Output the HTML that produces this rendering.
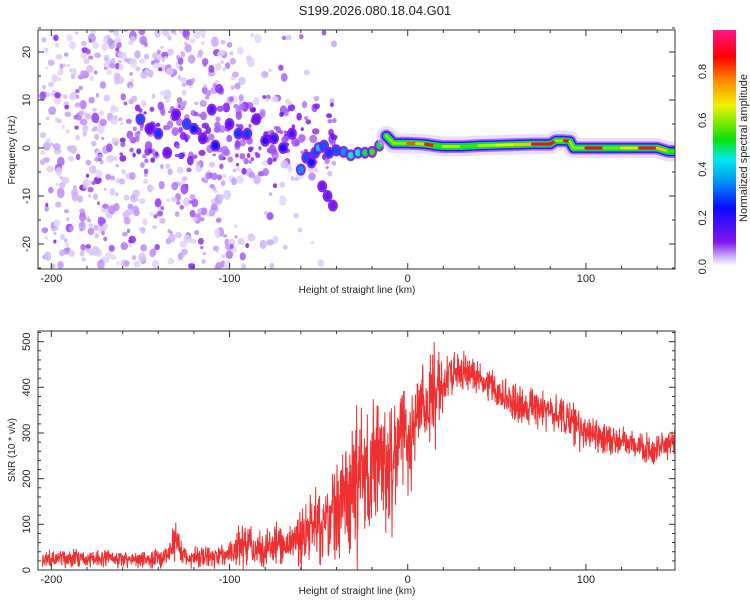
<!DOCTYPE html>
<html><head><meta charset="utf-8"><style>
body{margin:0;background:#fff;width:750px;height:600px;overflow:hidden}
svg text{font-family:"Liberation Sans",sans-serif;fill:#222}
</style></head><body>
<svg id="chart" width="750" height="600" xmlns="http://www.w3.org/2000/svg">
<defs>
<linearGradient id="cbar" x1="0" y1="1" x2="0" y2="0"></linearGradient>
<clipPath id="c1"><rect x="38" y="30" width="637" height="239"/></clipPath>
<clipPath id="c2"><rect x="38" y="331" width="637" height="239"/></clipPath>
</defs>
<text x="375" y="15" font-size="13" text-anchor="middle">S199.2026.080.18.04.G01</text>
<g id="topg" clip-path="url(#c1)"></g>
<g id="botg" clip-path="url(#c2)"></g>
<rect x="713" y="30" width="23" height="236" fill="url(#cbar)"/>
<g id="axesg"></g>
<text transform="translate(747,148) rotate(-90)" font-size="11" text-anchor="middle">Normalized spectral amplitude</text>
</svg>
<script>
// ---- data ----
const xTicks=[-200,-100,0,100];
const fTicks=[-20,-10,0,10,20];
const snrTicks=[0,100,200,300,400,500];
const cbTicks=[0,0.2,0.4,0.6,0.8];
const ridgeX=[-12,-8,-4,0,5,10,15,20,30,40,50,60,70,80,83,88,91,93,100,110,120,130,140,146,150];
const ridgeF=[2.5,1.0,1.0,1.0,0.9,0.8,0.5,0.3,0.3,0.5,0.6,0.7,0.8,0.8,1.5,1.5,1.4,0.0,0.0,0.0,0.0,0.0,0.0,-0.7,-0.7];
const ridgeAmp=[0.6,0.6,0.6,0.8,0.7,0.85,0.55,0.62,0.55,0.62,0.66,0.7,0.9,0.9,0.6,0.88,0.6,0.6,0.88,0.58,0.68,0.9,0.7,0.55,0.5];
const clusterX=[-60,-57,-54,-52,-50,-47,-44,-40,-36,-32,-28,-24,-20,-16,-48,-45,-42,-150,-140,-124,-120,-108,-95,-90,-80,-75,-70,-145,-130,-115,-100,-85,-65,-135,-110];
const clusterF=[-4.5,-2,-3,-1,0,0.5,-1,-0.5,-0.8,-1.5,-1,-1,-0.8,0.5,-8,-10,-12,6,3,5,4,0.5,3,3,1.5,2,0,4,7,2,5,6,3,-1,8];
const clusterAmp=[0.35,0.3,0.25,0.3,0.4,0.3,0.28,0.3,0.35,0.45,0.45,0.5,0.55,0.5,0.12,0.12,0.1,0.3,0.28,0.3,0.26,0.25,0.28,0.28,0.2,0.18,0.22,0.14,0.14,0.13,0.14,0.13,0.15,0.12,0.13];
const noiseX=[-205,-180,-160,-140,-120,-100,-80,-65,-50,-40];
const noiseDensity=[1.0,1.0,0.9,0.9,0.85,0.6,0.4,0.25,0.15,0.05];
const snrX=[];for(let v=-205;v<=150;v+=5)snrX.push(v);
const snrLow=[5,5,5,5,5,5,5,5,5,5,5,5,5,5,10,20,10,5,5,5,5,5,10,10,10,5,5,5,5,5,5,10,5,10,20,0,40,60,100,30,200,150,250,280,240,330,380,390,390,380,360,340,330,320,320,310,300,300,300,290,250,260,260,250,250,240,240,240,230,230,240,250];
const snrHigh=[40,45,45,45,50,40,45,50,45,45,40,45,40,50,60,115,55,50,55,50,55,60,100,110,80,90,110,100,110,130,180,190,170,230,330,340,360,390,395,410,400,420,440,480,520,470,480,480,470,460,450,430,420,410,400,400,390,390,380,380,380,340,340,330,320,320,310,300,300,300,300,310];
// ---- scales ----
const X0=38,X1=675,XMIN=-207.5,XMAX=150;
const sx=v=>X0+(v-XMIN)/(XMAX-XMIN)*(X1-X0);
const fy=f=>148-f*4.8;
const sy=s=>570-s*0.4567;
const cy=a=>266.7-a*244;
const NS='http://www.w3.org/2000/svg';
function mk(tag,attrs,parent){const e=document.createElementNS(NS,tag);for(const k in attrs)e.setAttribute(k,attrs[k]);parent.appendChild(e);return e;}
const STOPS=[[0,[255,255,255]],[0.03,[215,195,250]],[0.1,[130,20,240]],[0.24,[10,10,255]],[0.34,[0,140,245]],[0.44,[0,235,235]],[0.52,[10,225,10]],[0.66,[240,240,0]],[0.76,[255,140,0]],[0.86,[255,0,0]],[0.97,[255,20,140]]];
function cmap(a){const st=STOPS;
 for(let i=1;i<st.length;i++){if(a<=st[i][0]){const t=(a-st[i-1][0])/(st[i][0]-st[i-1][0]);const c=st[i-1][1].map((v,j)=>Math.round(v+(st[i][1][j]-v)*t));return'rgb('+c.join(',')+')';}}return'rgb(255,20,140)';}
const grad=document.getElementById('cbar');
STOPS.forEach(s=>mk('stop',{offset:s[0]/0.97,'stop-color':'rgb('+s[1].join(',')+')'},grad));
const topG=document.getElementById('topg'),botG=document.getElementById('botg'),axesG=document.getElementById('axesg');
let seed=12345;const rnd=()=>{seed=(seed*16807)%2147483647;return seed/2147483647;};
// noise texture
for(let i=0;i<noiseX.length-1;i++){
 const n=Math.round(noiseDensity[i]*140);
 for(let k=0;k<n;k++){
  const x=noiseX[i]+rnd()*(noiseX[i+1]-noiseX[i]);
  let f=(rnd()*50-25);
  if(x>-100&&rnd()<0.6)f=f*0.35+2;
  const near=Math.abs(f-3)<6&&x>-160;
  const a=0.02+rnd()*rnd()*0.09+(near?0.04:0);
  const r=1.5+rnd()*2.5;
  const b=mk('ellipse',{cx:sx(x),cy:fy(f),rx:r,ry:r*(0.8+rnd()*0.6),fill:cmap(a),opacity:0.85},topG);
  
  
 }
}
// clusters
clusterX.forEach((x,i)=>{
 const a=clusterAmp[i];
 const h=mk('ellipse',{cx:sx(x),cy:fy(clusterF[i]),rx:5,ry:6,fill:cmap(0.11),opacity:0.9},topG);
 
 
 const c=mk('ellipse',{cx:sx(x),cy:fy(clusterF[i]),rx:3,ry:3.5,fill:cmap(a)},topG);
 
 
});
// ridge
const rpts=ridgeX.map((x,i)=>sx(x)+','+fy(ridgeF[i])).join(' ');
[[20,0.03,0.55],[13,0.07,0.9],[10,0.12,1],[8.5,0.24,1],[7,0.4,1],[5.5,0.52,1]].forEach(([w,a,o])=>{
 const l=mk('polyline',{points:rpts,fill:'none',stroke:cmap(a),'stroke-width':w,'stroke-linejoin':'round','stroke-linecap':'round',opacity:o},topG);
 
 
});
for(let i=0;i<ridgeX.length-1;i++){
 const l=mk('line',{x1:sx(ridgeX[i]),y1:fy(ridgeF[i]),x2:sx(ridgeX[i+1]),y2:fy(ridgeF[i+1]),stroke:cmap(ridgeAmp[i]),'stroke-width':3,'stroke-linecap':'round'},topG);
 
 
}
// SNR
let zz=[];
for(let i=0;i<snrX.length-1;i++){for(let k=0;k<30;k++){const t=k/30;const x=snrX[i]+5*t;
 const lo=snrLow[i]+(snrLow[i+1]-snrLow[i])*t,hi=snrHigh[i]+(snrHigh[i+1]-snrHigh[i])*t;
 const mid=(lo+hi)/2;const u=(rnd()+rnd()+rnd())/3-0.5;const spike=rnd()<0.12?(rnd()-0.5):u*1.3;
 const v=mid+spike*(hi-lo);zz.push(sx(x).toFixed(2)+','+sy(Math.max(0,v)).toFixed(2));}}
const sl=mk('polyline',{points:zz.join(' '),fill:'none',stroke:'#f03030','stroke-width':1},botG);


// axes
function frame(y0,y1,name){
 const r=mk('rect',{x:X0,y:y0,width:X1-X0,height:y1-y0,fill:'none',stroke:'#333','stroke-width':1},axesG);
 
 
 for(let v=-200;v<=150;v+=20){const len=v%100===0?6:3;
  mk('line',{x1:sx(v),y1:y1,x2:sx(v),y2:y1-len,stroke:'#333'},axesG);mk('line',{x1:sx(v),y1:y0,x2:sx(v),y2:y0+len,stroke:'#333'},axesG);}
 xTicks.forEach(v=>{const t=mk('text',{x:sx(v),y:y1+13,'font-size':11,'text-anchor':'middle'},axesG);t.textContent=v;
  
  });
 const xt=mk('text',{x:357,y:y1+24,'font-size':10,'text-anchor':'middle'},axesG);xt.textContent='Height of straight line (km)';
 
 
}
frame(30,269,'spectrogram-frame');frame(331,570,'snr-frame');
for(let f=-25;f<=25;f+=5){const len=f%10===0?6:3;mk('line',{x1:X0,y1:fy(f),x2:X0+len,y2:fy(f),stroke:'#333'},axesG);mk('line',{x1:X1,y1:fy(f),x2:X1-len,y2:fy(f),stroke:'#333'},axesG);}
fTicks.forEach(f=>{const t=mk('text',{transform:'translate(30,'+fy(f)+') rotate(-90)','font-size':11,'text-anchor':'middle'},axesG);t.textContent=f;
 
 });
for(let s=0;s<=520;s+=20){const len=s%100===0?6:3;mk('line',{x1:X0,y1:sy(s),x2:X0+len,y2:sy(s),stroke:'#333'},axesG);mk('line',{x1:X1,y1:sy(s),x2:X1-len,y2:sy(s),stroke:'#333'},axesG);}
snrTicks.forEach(s=>{const t=mk('text',{transform:'translate(30,'+sy(s)+') rotate(-90)','font-size':11,'text-anchor':'middle'},axesG);t.textContent=s;
 
 });
const yt1=mk('text',{transform:'translate(15,150) rotate(-90)','font-size':10,'text-anchor':'middle'},axesG);yt1.textContent='Frequency (Hz)';


const yt2=mk('text',{transform:'translate(15,450) rotate(-90)','font-size':10,'text-anchor':'middle'},axesG);yt2.textContent='SNR (10 * v/v)';


cbTicks.forEach(a=>{const t=mk('text',{transform:'translate(706,'+cy(a)+') rotate(-90)','font-size':11,'text-anchor':'middle'},axesG);t.textContent=a.toFixed(1);
 
 });
</script>
</body></html>
